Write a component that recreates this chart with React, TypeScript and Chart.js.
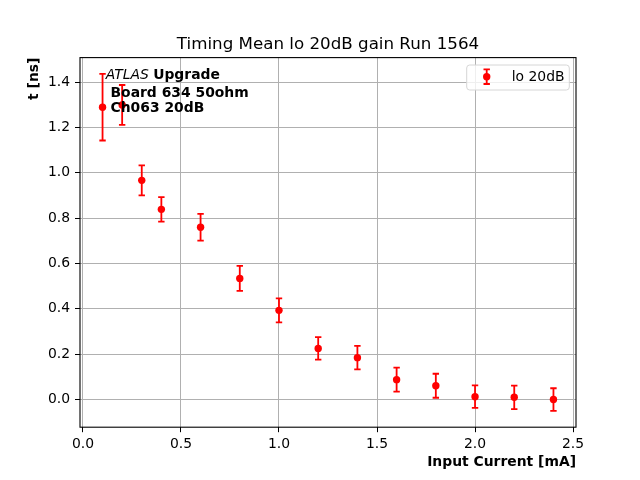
import React, { useEffect, useRef } from "react";
import { Chart, registerables } from "chart.js";

Chart.register(...registerables);

const xValues = [0.1, 0.2, 0.3, 0.4, 0.6, 0.8, 1.0, 1.2, 1.4, 1.6, 1.8, 2.0, 2.2, 2.4];
const yValues = [1.29, 1.3, 0.967, 0.839, 0.76, 0.534, 0.393, 0.225, 0.184, 0.087, 0.06, 0.012, 0.009, -0.001];
const yErrors = [0.147, 0.088, 0.066, 0.054, 0.059, 0.055, 0.053, 0.05, 0.052, 0.053, 0.053, 0.05, 0.052, 0.05];

const titleText = "Timing Mean lo 20dB gain Run 1564";
const xTitle = "Input Current [mA]";
const yTitle = "t [ns]";
const legendLabel = "lo 20dB";
const noteLines = ["Board 634 50ohm", "Ch063 20dB"];

const FONT = '"DejaVu Sans", "Liberation Sans", sans-serif';
const RED = "#ff0000";

function drawErrorBar(ctx: CanvasRenderingContext2D, x: number, yTop: number, yBot: number, cap: number) {
  ctx.beginPath();
  ctx.moveTo(x, yTop);
  ctx.lineTo(x, yBot);
  ctx.moveTo(x - cap, yTop);
  ctx.lineTo(x + cap, yTop);
  ctx.moveTo(x - cap, yBot);
  ctx.lineTo(x + cap, yBot);
  ctx.stroke();
}

const errorBarPlugin = {
  id: "errorBars",
  beforeDatasetsDraw(chart: any) {
    const ctx = chart.ctx as CanvasRenderingContext2D;
    const xs = chart.scales.x;
    const ys = chart.scales.y;
    ctx.save();
    ctx.strokeStyle = RED;
    ctx.lineWidth = 1.8;
    for (let i = 0; i < xValues.length; i++) {
      const px = xs.getPixelForValue(xValues[i]);
      const top = ys.getPixelForValue(yValues[i] + yErrors[i]);
      const bot = ys.getPixelForValue(yValues[i] - yErrors[i]);
      drawErrorBar(ctx, px, top, bot, 3.2);
    }
    ctx.restore();
  },
};

const decorPlugin = {
  id: "decor",
  afterDraw(chart: any) {
    const ctx = chart.ctx as CanvasRenderingContext2D;
    const a = chart.chartArea;
    ctx.save();
    // spines
    ctx.strokeStyle = "#000";
    ctx.lineWidth = 1.1;
    ctx.strokeRect(a.left, a.top, a.right - a.left, a.bottom - a.top);

    // title
    ctx.fillStyle = "#000";
    ctx.font = `16.7px ${FONT}`;
    ctx.textAlign = "center";
    ctx.textBaseline = "alphabetic";
    ctx.fillText(titleText, (a.left + a.right) / 2, a.top - 8.6);

    // x title
    ctx.font = `bold 13.9px ${FONT}`;
    ctx.textAlign = "right";
    ctx.fillText(xTitle, a.right, a.bottom + 38.8);

    // y title
    ctx.save();
    ctx.translate(a.left - 42, a.top);
    ctx.rotate(-Math.PI / 2);
    ctx.textAlign = "right";
    ctx.fillText(yTitle, 0, 0);
    ctx.restore();

    // annotation
    const nx = a.left + 25.7;
    ctx.textAlign = "left";
    ctx.font = `italic 13.9px ${FONT}`;
    ctx.fillText("ATLAS", nx, a.top + 21.7);
    const w1 = ctx.measureText("ATLAS ").width;
    ctx.font = `bold 13.9px ${FONT}`;
    ctx.fillText("Upgrade", nx + w1, a.top + 21.7);
    ctx.fillText(noteLines[0], a.left + 30.5, a.top + 39.1);
    ctx.fillText(noteLines[1], a.left + 30.5, a.top + 54.1);

    // legend
    const lx = 466.7, ly = 65, lw = 102.6, lh = 25;
    ctx.beginPath();
    const r = 3;
    ctx.moveTo(lx + r, ly);
    ctx.lineTo(lx + lw - r, ly);
    ctx.arcTo(lx + lw, ly, lx + lw, ly + r, r);
    ctx.lineTo(lx + lw, ly + lh - r);
    ctx.arcTo(lx + lw, ly + lh, lx + lw - r, ly + lh, r);
    ctx.lineTo(lx + r, ly + lh);
    ctx.arcTo(lx, ly + lh, lx, ly + lh - r, r);
    ctx.lineTo(lx, ly + r);
    ctx.arcTo(lx, ly, lx + r, ly, r);
    ctx.closePath();
    ctx.fillStyle = "rgba(255,255,255,0.8)";
    ctx.fill();
    ctx.strokeStyle = "#d6d6d6";
    ctx.lineWidth = 1;
    ctx.stroke();

    const mx = 486.7, my = 76.7;
    ctx.strokeStyle = RED;
    ctx.lineWidth = 1.8;
    drawErrorBar(ctx, mx, my - 7.3, my + 7.3, 3.2);
    ctx.fillStyle = RED;
    ctx.beginPath();
    ctx.arc(mx, my, 3.7, 0, Math.PI * 2);
    ctx.fill();

    ctx.fillStyle = "#000";
    ctx.font = `13.9px ${FONT}`;
    ctx.textAlign = "left";
    ctx.fillText(legendLabel, 511.7, 81);
    ctx.restore();
  },
};

export default function App() {
  const ref = useRef<HTMLCanvasElement | null>(null);

  useEffect(() => {
    if (!ref.current) return;
    const chart = new Chart(ref.current, {
      type: "scatter",
      data: {
        datasets: [
          {
            label: legendLabel,
            data: xValues.map((x, i) => ({ x, y: yValues[i] })),
            backgroundColor: RED,
            borderColor: RED,
            borderWidth: 0,
            pointRadius: 3.7,
            pointHoverRadius: 3.7,
            pointStyle: "circle",
          },
        ],
      },
      options: {
        responsive: false,
        animation: false,
        events: [],
        layout: { padding: { top: 57.6, right: 64, bottom: 0, left: 0 } },
        plugins: {
          legend: { display: false },
          title: { display: false },
          tooltip: { enabled: false },
        },
        scales: {
          x: {
            type: "linear",
            min: -0.015,
            max: 2.515,
            afterFit: (s: any) => {
              s.height = 52.8;
            },
            border: { display: false },
            grid: { color: "#b0b0b0", lineWidth: 1, tickColor: "#000", tickLength: 5, drawTicks: true },
            ticks: {
              stepSize: 0.5,
              includeBounds: false,
              maxRotation: 0,
              autoSkip: false,
              padding: 4,
              color: "#000",
              font: { family: FONT, size: 13.9 },
              callback: (v: any) => Number(v).toFixed(1),
            },
          },
          y: {
            type: "linear",
            min: -0.123,
            max: 1.509,
            afterFit: (s: any) => {
              s.width = 80;
            },
            border: { display: false },
            grid: { color: "#b0b0b0", lineWidth: 1, tickColor: "#000", tickLength: 5, drawTicks: true },
            ticks: {
              stepSize: 0.2,
              includeBounds: false,
              autoSkip: false,
              padding: 5,
              color: "#000",
              font: { family: FONT, size: 13.9 },
              callback: (v: any) => Number(v).toFixed(1),
            },
          },
        },
      },
      plugins: [errorBarPlugin, decorPlugin],
    } as any);
    return () => chart.destroy();
  }, []);

  return (
    <div style={{ position: "absolute", left: 0, top: 0, width: 640, height: 480, background: "#fff" }}>
      <canvas ref={ref} width={640} height={480} style={{ display: "block", width: 640, height: 480 }} />
    </div>
  );
}
